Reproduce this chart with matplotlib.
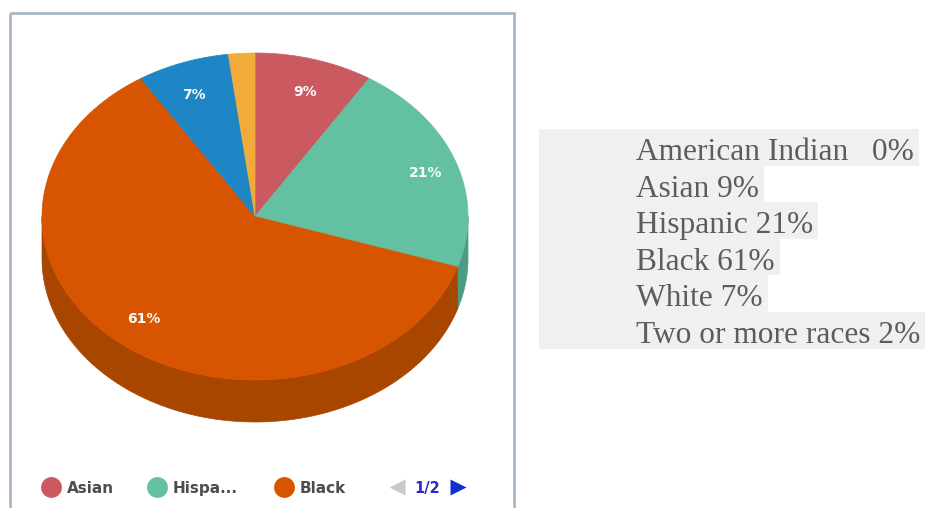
import matplotlib.pyplot as plt
from matplotlib.patches import Polygon, Rectangle
import numpy as np

# data
groups = ["American Indian", "Asian", "Hispanic", "Black", "White", "Two or more races"]
shares = [0, 9, 21, 61, 7, 2]
top_colors = ["#8a6bb8", "#cb5960", "#63c0a1", "#d75500", "#1e86c4", "#f2ab3b"]
side_colors = ["#6a4f90", "#9e4249", "#4c9c84", "#a84600", "#17679a", "#c48a2e"]
legend_names = ["Asian", "Hispanic", "Black"]
page_text = "1/2"

# geometry of the 3d pie (pixel space)
cx, cy = 255, 216.5
rx, ry = 213, 163.5
depth = 42


def rim(t0, t1, dy=0, n=120):
    th = np.radians(np.linspace(t0, t1, n))
    return np.column_stack([cx + rx * np.sin(th), cy - ry * np.cos(th) + dy])


fig = plt.figure(figsize=(9.25, 5.08), dpi=100)
ax = fig.add_axes([0, 0, 1, 1])
ax.set_xlim(0, 925)
ax.set_ylim(508, 0)
ax.axis("off")

# panel border
ax.add_patch(Rectangle((9.5, 12.5), 504, 510, fill=False, ec="#a9b9c9", lw=2))

total = sum(shares)
edges = np.concatenate([[0], np.cumsum(shares)]) / total * 360

# sides (front half only)
for i in range(len(shares)):
    lo, hi = max(edges[i], 90), min(edges[i + 1], 270)
    if hi > lo:
        pts = np.vstack([rim(lo, hi), rim(hi, lo, depth)])
        ax.add_patch(Polygon(pts, closed=True, fc=side_colors[i], ec=side_colors[i], lw=0.5))

# top faces
for i in range(len(shares)):
    if shares[i] == 0:
        continue
    pts = np.vstack([[cx, cy], rim(edges[i], edges[i + 1])])
    ax.add_patch(Polygon(pts, closed=True, fc=top_colors[i], ec=top_colors[i], lw=0.5))

# slice labels
for i in range(len(shares)):
    if shares[i] < 5:
        continue
    mid = np.radians((edges[i] + edges[i + 1]) / 2)
    lx = cx + rx * 0.85 * np.sin(mid)
    ly = cy - ry * 0.79 * np.cos(mid)
    ax.text(lx, ly, f"{shares[i]}%", color="#fbfbfb", fontsize=10, fontweight="bold",
            ha="center", va="center", family="DejaVu Sans")

# legend at the bottom
leg_x = [51, 157, 284]
for j, name in enumerate(legend_names):
    k = groups.index(name)
    label = name if len(name) <= 6 else name[:5] + "..."
    ax.plot(leg_x[j], 487, "o", ms=15, color=top_colors[k], mec="none")
    ax.text(leg_x[j] + 16, 487, label, fontsize=11, fontweight="bold", color="#4d4d4d",
            va="center_baseline", ha="left", family="DejaVu Sans")
ax.plot(397, 487, "<", ms=12, color="#c9c9c9", mec="none")
ax.text(427, 487, page_text, fontsize=10.5, fontweight="bold", color="#2a2ac8",
        va="center_baseline", ha="center", family="DejaVu Sans")
ax.plot(458, 487, ">", ms=12, color="#1530d0", mec="none")

# text list on the right
seps = ["   "] + [" "] * 5
row_h = 36.6
texts = []
for i, g in enumerate(groups):
    t = ax.text(636, 160 + i * row_h, f"{g}{seps[i]}{shares[i]}%", fontsize=22.6,
                family="Liberation Serif", color="#5c5c5c", ha="left", va="baseline", zorder=3)
    texts.append(t)

fig.canvas.draw()
r = fig.canvas.get_renderer()
inv = ax.transData.inverted()
for i, t in enumerate(texts):
    bb = t.get_window_extent(r)
    x1 = inv.transform((bb.x1, bb.y0))[0] + 5
    ax.add_patch(Rectangle((539, 129 + i * row_h), x1 - 539, row_h, fc="#f0f0f0", ec="none", zorder=1))

fig.savefig("out.png", dpi=100)
